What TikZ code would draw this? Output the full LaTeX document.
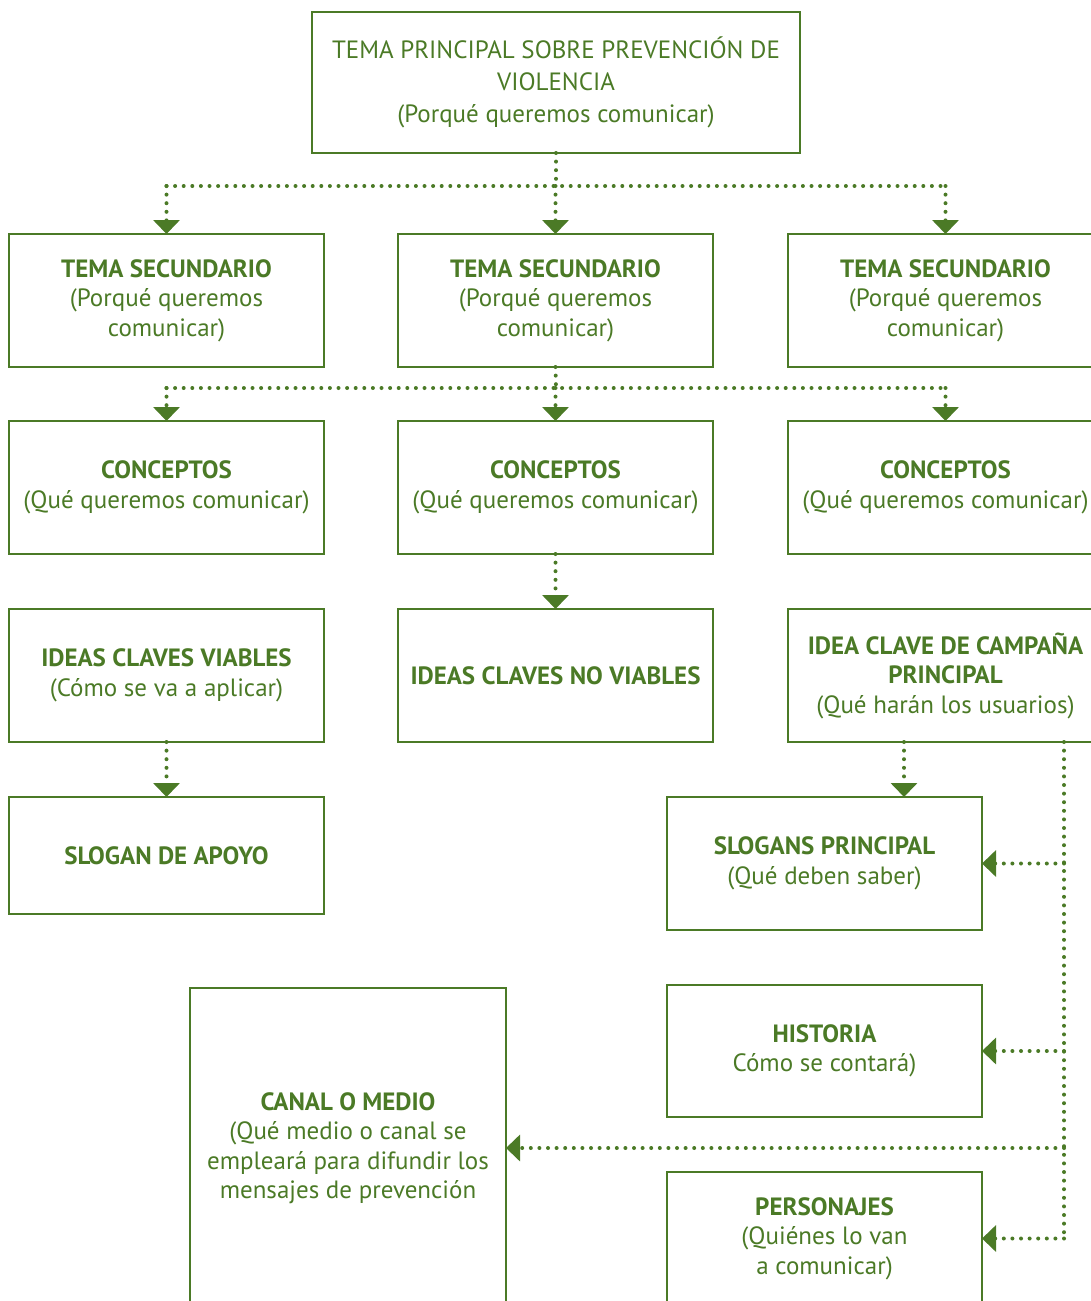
\documentclass[tikz,border=0pt]{standalone}
\usepackage{fontspec}
\setmainfont{PT Sans}
\usetikzlibrary{arrows.meta}
\definecolor{pvGreen}{RGB}{75,122,38}

\begin{document}
\begin{tikzpicture}[x=1pt,y=-1pt,
    box/.style={draw=pvGreen,line width=2.5pt,rectangle,minimum width=315pt,minimum height=133pt,align=center,text=pvGreen,inner sep=2pt,outer sep=0pt,font=\fontsize{25}{29.5}\selectfont},
    link/.style={draw=pvGreen,line width=4pt,line cap=round,dash pattern=on 0pt off 8.6pt},
    tip/.style={-{Triangle[width=26pt,length=14pt,fill=pvGreen]}}]
    \useasboundingbox (0,0) rectangle (1091,1301);
    \clip (0,0) rectangle (1091,1301);

    % Main theme
    \node[box,minimum width=488pt,minimum height=141pt,font=\fontsize{25}{32}\selectfont] (tema) at (556,82.5) {TEMA PRINCIPAL SOBRE PREVENCIÓN DE\\VIOLENCIA\\(Porqué queremos comunicar)};

    % Secondary themes
    \node[box] (sec1) at (166.5,300.5) {\textbf{TEMA SECUNDARIO}\\(Porqué queremos\\comunicar)};
    \node[box] (sec2) at (555.5,300.5) {\textbf{TEMA SECUNDARIO}\\(Porqué queremos\\comunicar)};
    \node[box] (sec3) at (945.5,300.5) {\textbf{TEMA SECUNDARIO}\\(Porqué queremos\\comunicar)};

    % Concepts
    \node[box] (con1) at (166.5,487.5) {\textbf{CONCEPTOS}\\(Qué queremos comunicar)};
    \node[box] (con2) at (555.5,487.5) {\textbf{CONCEPTOS}\\(Qué queremos comunicar)};
    \node[box] (con3) at (945.5,487.5) {\textbf{CONCEPTOS}\\(Qué queremos comunicar)};

    % Key ideas
    \node[box] (viables) at (166.5,675.5) {\textbf{IDEAS CLAVES VIABLES}\\(Cómo se va a aplicar)};
    \node[box] (noviables) at (555.5,675.5) {\textbf{IDEAS CLAVES NO VIABLES}};
    \node[box] (campana) at (945.5,675.5) {\textbf{IDEA CLAVE DE CAMPAÑA}\\\textbf{PRINCIPAL}\\(Qué harán los usuarios)};

    % Slogans and campaign pieces
    \node[box,minimum height=117pt] (apoyo) at (166.5,855.5) {\textbf{SLOGAN DE APOYO}};
    \node[box] (slogans) at (824.5,863.5) {\textbf{SLOGANS PRINCIPAL}\\(Qué deben saber)};
    \node[box,minimum height=132pt] (historia) at (824.5,1051) {\textbf{HISTORIA}\\Cómo se contará)};
    \node[box] (personajes) at (824.5,1238.5) {\textbf{PERSONAJES}\\(Quiénes lo van\\a comunicar)};
    \node[box,minimum width=316pt,minimum height=320pt] (canal) at (348,1148) {\textbf{CANAL O MEDIO}\\(Qué medio o canal se\\empleará para difundir los\\mensajes de prevención};

    % Connectors
    \coordinate (jA) at (556,186);
    \coordinate (jB) at (556,388);
    \coordinate (bajada) at (904,742);
    \coordinate (eje) at (1064,742);
    \draw[link] (tema.south) -- (jA);
    \draw[link] (sec1.north |- jA) -- (sec3.north |- jA);
    \foreach \n in {sec1,sec2,sec3}
        \draw[link,tip] (\n.north |- jA) -- (\n.north);
    \draw[link] (sec2.south) -- (jB);
    \draw[link] (con1.north |- jB) -- (con3.north |- jB);
    \foreach \n in {con1,con2,con3}
        \draw[link,tip] (\n.north |- jB) -- (\n.north);
    \draw[link,tip] (con2.south) -- (noviables.north);
    \draw[link,tip] (viables.south) -- (apoyo.north);
    \draw[link,tip] (bajada) -- (slogans.north -| bajada);
    \draw[link] (eje) -- (personajes.east -| eje);
    \foreach \n in {slogans,historia,canal,personajes}
        \draw[link,tip] (\n.east -| eje) -- (\n.east);
\end{tikzpicture}
\end{document}
